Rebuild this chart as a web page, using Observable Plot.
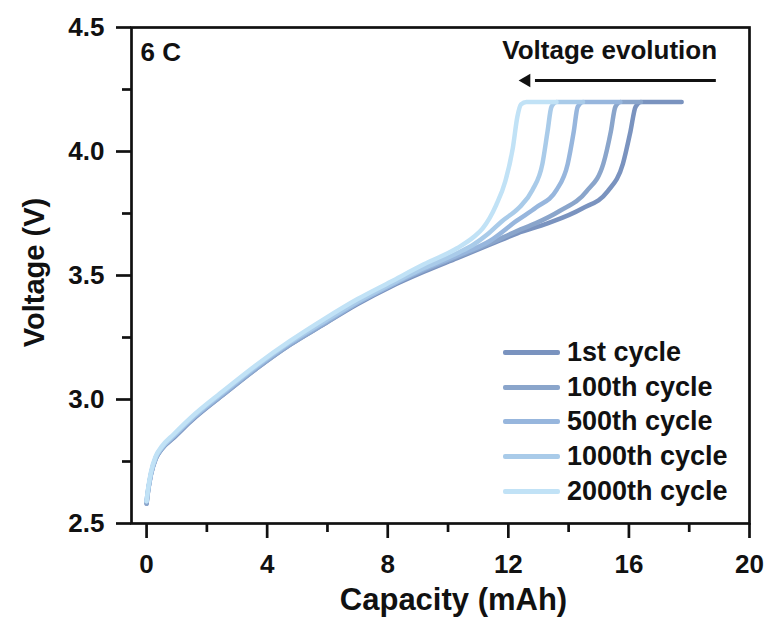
<!DOCTYPE html>
<html>
<head>
<meta charset="utf-8">
<script src="https://cdn.jsdelivr.net/npm/d3@7"></script>
<script src="https://cdn.jsdelivr.net/npm/@observablehq/plot@0.6"></script>
<style>
  html, body { margin: 0; padding: 0; background: #fff; }
  #wrap { position: relative; width: 768px; height: 619px; font-family: "Liberation Sans", Arial, sans-serif; font-weight: bold; }
  #legend { position: absolute; left: 503px; top: 335px; }
  .row { display: flex; align-items: center; height: 34.7px; font-size: 27px; color: #111; }
  .sw { width: 57px; height: 5px; margin-right: 7px; border-radius: 2px; }
</style>
</head>
<body>
<div id="wrap"><div id="chart"></div><div id="legend"></div></div>
<script>
const cycles = ["1st cycle", "100th cycle", "500th cycle", "1000th cycle", "2000th cycle"];
const colors = ["#7a93bf", "#8aa5cb", "#97b6dd", "#a9cbe9", "#c1e2f6"];

const cap1 = [0,0.05,0.15,0.3,0.5,0.9,1.45,2.55,3.65,4.75,5.9,7.0,8.1,9.2,10.3,11.4,12.3,13.3,14.45,15.3,15.8,16.05,16.22,16.4,17.75];
const v1   = [2.58,2.63,2.70,2.76,2.80,2.845,2.91,3.02,3.125,3.22,3.305,3.385,3.455,3.515,3.57,3.625,3.67,3.71,3.77,3.84,3.95,4.08,4.18,4.2,4.2];

const cap100 = [0,0.05,0.15,0.3,0.5,0.9,1.45,2.55,3.65,4.75,5.9,7.0,8.1,9.2,10.3,11.4,12.3,12.9,13.7,14.6,15.15,15.4,15.55,15.72,16.4];
const v100   = [2.58,2.63,2.70,2.76,2.80,2.85,2.915,3.02,3.125,3.22,3.305,3.39,3.46,3.52,3.575,3.63,3.68,3.71,3.76,3.84,3.95,4.08,4.18,4.2,4.2];

const cap500 = [0,0.05,0.15,0.3,0.5,0.9,1.45,2.55,3.65,4.75,5.9,7.0,8.1,9.2,10.3,11.4,12.27,12.93,13.6,13.97,14.17,14.3,14.48,15.72];
const v500   = [2.59,2.635,2.70,2.765,2.805,2.85,2.915,3.025,3.13,3.225,3.31,3.39,3.46,3.525,3.58,3.64,3.72,3.775,3.845,3.95,4.08,4.18,4.2,4.2];

const cap1000 = [0,0.05,0.15,0.3,0.5,0.9,1.45,2.55,3.65,4.75,5.9,7.0,8.1,9.2,10.3,10.85,11.3,11.8,12.37,12.8,13.13,13.3,13.43,13.6,14.48];
const v1000   = [2.59,2.635,2.705,2.765,2.805,2.855,2.92,3.03,3.135,3.23,3.315,3.395,3.465,3.53,3.59,3.625,3.665,3.72,3.775,3.845,3.95,4.08,4.18,4.2,4.2];

const cap2000 = [0,0.05,0.15,0.3,0.5,0.9,1.45,2.55,3.65,4.75,5.9,7.0,8.1,9.2,10.3,10.85,11.15,11.6,11.9,12.15,12.3,12.42,12.6,13.6];
const v2000   = [2.59,2.64,2.71,2.77,2.81,2.86,2.925,3.035,3.14,3.235,3.325,3.405,3.475,3.545,3.61,3.655,3.69,3.785,3.88,4.015,4.14,4.19,4.2,4.2];

const xMajor = [0, 4, 8, 12, 16, 20];
const xMinor = [2, 6, 10, 14, 18];
const yMajor = [2.5, 3.0, 3.5, 4.0, 4.5];
const yMinor = [2.75, 3.25, 3.75, 4.25];

const annotations = [{label: "6 C", cap: -0.2, v: 4.40}, {label: "Voltage evolution", cap: 11.8, v: 4.405}];
const arrowLine = [{x1: 12.9, x2: 18.9, v: 4.286}];
const arrowHead = [{cap: 12.6, v: 4.286}];

const caps = [cap1, cap100, cap500, cap1000, cap2000];
const volts = [v1, v100, v500, v1000, v2000];
const rows = cycles.flatMap((c, i) => caps[i].map((x, j) => ({cycle: c, cap: x, v: volts[i][j]})));

const chart = Plot.plot({
  width: 768, height: 619,
  marginLeft: 131, marginRight: 19, marginTop: 27, marginBottom: 96,
  x: {domain: [-0.5, 20]},
  y: {domain: [2.5, 4.5]},
  color: {domain: cycles, range: colors},
  style: {fontFamily: "'Liberation Sans', Arial, sans-serif", fontWeight: "bold", fontSize: "26px", color: "#111", background: "white"},
  marks: [
    Plot.axisX({ticks: xMajor, tickSize: 15, tickPadding: 16, strokeWidth: 2.7, label: null, tickFormat: d => String(d), fontSize: 26}),
    Plot.axisX({ticks: xMinor, tickSize: 9, strokeWidth: 2.7, text: null, label: null}),
    Plot.axisY({ticks: yMajor, tickSize: 15, tickPadding: 12, strokeWidth: 2.7, label: null, tickFormat: d => d.toFixed(1), fontSize: 26}),
    Plot.axisY({ticks: yMinor, tickSize: 9, strokeWidth: 2.7, text: null, label: null}),
    Plot.line(rows, {x: "cap", y: "v", z: "cycle", stroke: "cycle", strokeWidth: 4.5, curve: "monotone-x", strokeLinecap: "round", strokeLinejoin: "round"}),
    Plot.frame({stroke: "#111", strokeWidth: 2.7}),
    Plot.text(annotations, {x: "cap", y: "v", text: "label", textAnchor: "start", fontSize: 26, fill: "#111"}),
    Plot.ruleY(arrowLine, {y: "v", x1: "x1", x2: "x2", stroke: "#111", strokeWidth: 3}),
    Plot.dot(arrowHead, {x: "cap", y: "v", symbol: "triangle", r: 5, rotate: -90, fill: "#111"}),
    Plot.text(["Capacity (mAh)"], {frameAnchor: "bottom", textAnchor: "middle", dx: 13, dy: 77, lineAnchor: "middle", fontSize: 31, fill: "#111"}),
    Plot.text(["Voltage (V)"], {frameAnchor: "left", textAnchor: "middle", dx: -97, dy: -3, rotate: -90, lineAnchor: "middle", fontSize: 29, fill: "#111"})
  ]
});
document.getElementById("chart").appendChild(chart);

const legend = document.getElementById("legend");
cycles.forEach((c, i) => {
  const row = document.createElement("div");
  row.className = "row";
  const sw = document.createElement("div");
  sw.className = "sw";
  sw.style.background = colors[i];
  const t = document.createElement("span");
  t.textContent = c;
  row.appendChild(sw); row.appendChild(t);
  legend.appendChild(row);
});
</script>
</body>
</html>
